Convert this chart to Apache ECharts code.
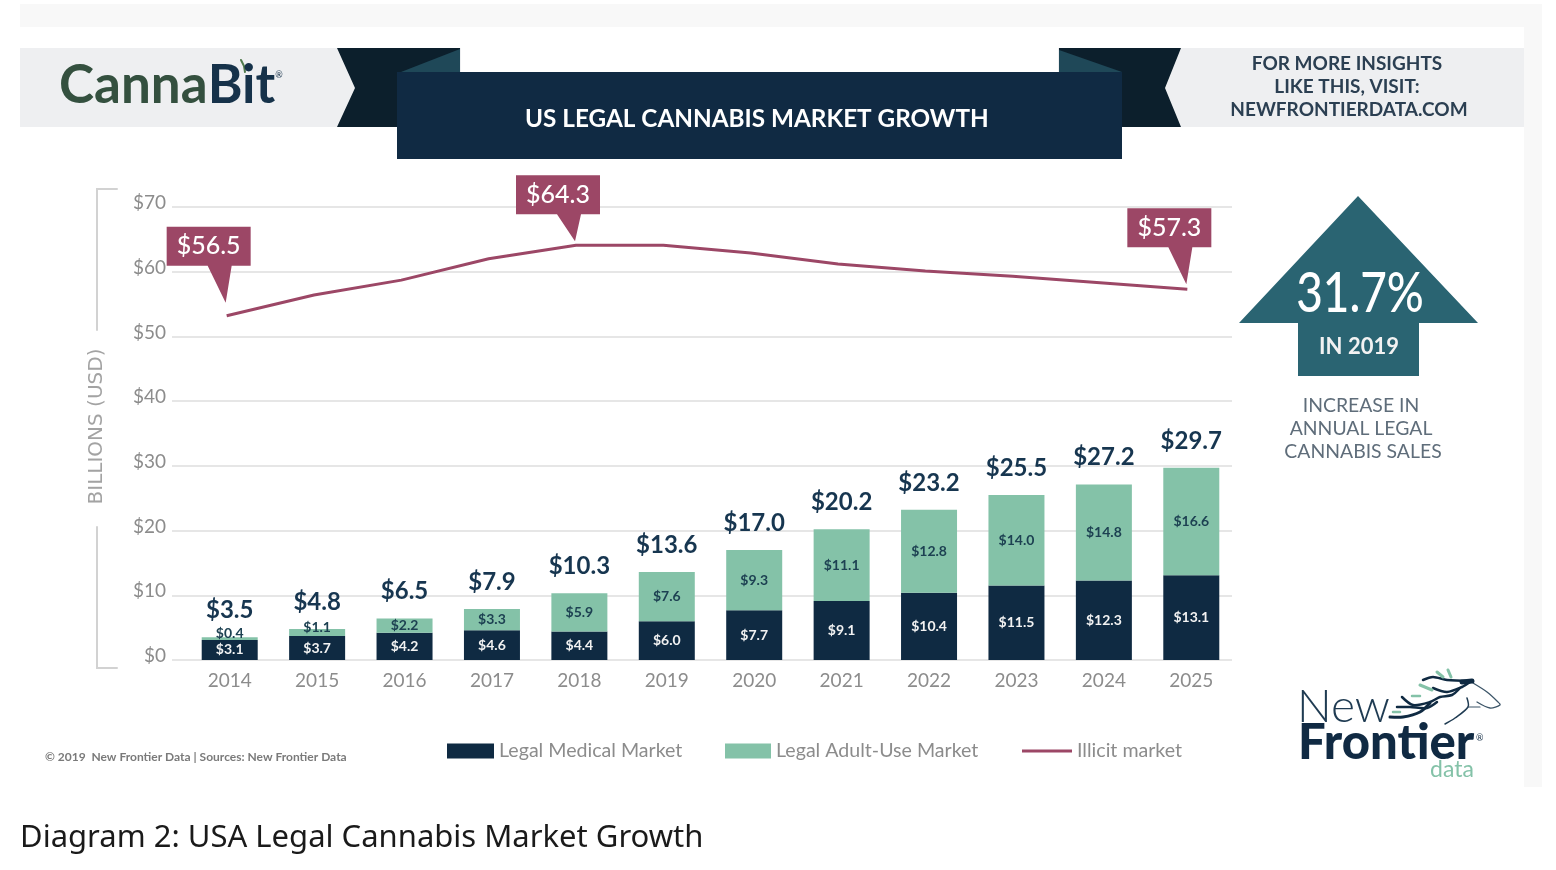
<!DOCTYPE html>
<html>
<head>
<meta charset="utf-8">
<title>US Legal Cannabis Market Growth</title>
<script src="https://cdn.jsdelivr.net/npm/echarts@6/dist/echarts.min.js"></script>
<style>
html, body { margin: 0; padding: 0; background: #fff; }
#chart { width: 1556px; height: 870px; }
</style>
</head>
<body>
<div id="chart"></div>
<script>
var years = ['2014', '2015', '2016', '2017', '2018', '2019', '2020', '2021', '2022', '2023', '2024', '2025'];
var medical = [3.1, 3.7, 4.2, 4.6, 4.4, 6.0, 7.7, 9.1, 10.4, 11.5, 12.3, 13.1];
var adultUse = [0.4, 1.1, 2.2, 3.3, 5.9, 7.6, 9.3, 11.1, 12.8, 14.0, 14.8, 16.6];
var totals = [3.5, 4.8, 6.5, 7.9, 10.3, 13.6, 17.0, 20.2, 23.2, 25.5, 27.2, 29.7];
var illicit = [53.2, 56.4, 58.7, 62.0, 64.1, 64.1, 62.9, 61.2, 60.1, 59.3, 58.3, 57.3];
var calloutYears = ['2014', '2018', '2025'];
var calloutValues = [56.5, 64.3, 57.3];

// pin height and how far its centre sits above the line, per callout
var calloutPins = [[76, 51], [66, 37], [76, 43]];

var NAVY = '#0f2a42', GREEN = '#84c2a8', WINE = '#9c4766', TEAL = '#2a6472', GREY = '#8c8c8c';
var FONT = 'Lato';

function money(v) { return '$' + v.toFixed(1); }

function pinPath(h) {
    return 'path://M0 0H84V39H65L59 ' + h + 'L41 39H0Z';
}
function text(x, y, str, size, color, weight, align) {
    return {
        type: 'text', x: x, y: y, z: 20,
        style: {
            text: str, fontFamily: FONT, fontSize: size, fill: color,
            fontWeight: weight || 400, align: align || 'center', verticalAlign: 'middle'
        }
    };
}
function poly(points, color) {
    return { type: 'polygon', z: 2, shape: { points: points }, style: { fill: color } };
}
function rect(x, y, w, h, color) {
    return { type: 'rect', z: 1, shape: { x: x, y: y, width: w, height: h }, style: { fill: color } };
}
function stroke(points, color, width, smooth) {
    return {
        type: 'polyline', z: 5, shape: { points: points, smooth: smooth || 0 },
        style: { fill: 'none', stroke: color, lineWidth: width, lineCap: 'round' }
    };
}
function legendItem(name, left, width, height) {
    return {
        left: left, top: 741, padding: 0, itemWidth: width, itemHeight: height, icon: 'rect',
        selectedMode: false, data: [name],
        textStyle: { color: GREY, fontFamily: FONT, fontSize: 19.6 }
    };
}

var chart = echarts.init(document.getElementById('chart'));
chart.setOption({
    backgroundColor: '#fff',
    animation: false,
    title: {
        text: 'US LEGAL CANNABIS MARKET GROWTH',
        left: 520, top: 102, z: 20,
        textStyle: { color: '#fff', fontFamily: FONT, fontSize: 24.3, fontWeight: 700 }
    },
    legend: [
        legendItem('Legal Medical Market', 447, 47, 15),
        legendItem('Legal Adult-Use Market', 725, 46, 15),
        legendItem('Illicit market', 1022, 50, 3)
    ],
    // first grid only carries the gridlines, which run a bit wider than the bars
    grid: [
        { left: 172, width: 1060, top: 207, height: 453 },
        { left: 186, width: 1049, top: 207, height: 453 },
        { left: 183, width: 1048, top: 207, height: 453 }
    ],
    xAxis: [
        { gridIndex: 0, type: 'value', min: 0, max: 1, show: false },
        {
            gridIndex: 1, type: 'category', data: years,
            axisLine: { show: false }, axisTick: { show: false },
            axisLabel: { color: GREY, fontFamily: FONT, fontSize: 19, margin: 11 }
        },
        { gridIndex: 2, type: 'category', data: years, show: false }
    ],
    yAxis: [
        {
            gridIndex: 0, type: 'value', min: 0, max: 70, interval: 10,
            name: 'BILLIONS (USD)', nameLocation: 'middle', nameGap: 65, nameRotate: 90,
            nameTextStyle: { color: '#a3a3a3', fontFamily: 'DejaVu Sans', fontSize: 20, padding: [0, 0, 0, 14] },
            axisLine: { show: false }, axisTick: { show: false },
            axisLabel: {
                formatter: '${value}', color: GREY, fontFamily: FONT, fontSize: 19, margin: 6,
                verticalAlign: 'bottom', lineHeight: 8
            },
            splitLine: { lineStyle: { color: '#e6e6e6', width: 2 } }
        },
        { gridIndex: 1, type: 'value', min: 0, max: 70, show: false },
        { gridIndex: 2, type: 'value', min: 0, max: 70, show: false }
    ],
    series: [
        {
            name: 'Legal Medical Market', type: 'bar', stack: 'sales', xAxisIndex: 1, yAxisIndex: 1,
            barWidth: 56, data: medical,
            itemStyle: { color: NAVY },
            label: {
                show: true, position: 'inside', color: '#f2f2f2', fontFamily: FONT, fontSize: 14, fontWeight: 700,
                formatter: function (p) { return money(p.value); }
            }
        },
        {
            name: 'Legal Adult-Use Market', type: 'bar', stack: 'sales', xAxisIndex: 1, yAxisIndex: 1,
            barWidth: 56,
            data: adultUse.map(function (v) {
                // the two thinnest segments push their label upward
                return v < 1.5 ? { value: v, label: { offset: [0, -5] } } : v;
            }),
            itemStyle: { color: GREEN },
            label: {
                show: true, position: 'inside', color: '#1d4152', fontFamily: FONT, fontSize: 14, fontWeight: 700,
                formatter: function (p) { return money(p.value); }
            }
        },
        {
            name: 'Total', type: 'scatter', xAxisIndex: 1, yAxisIndex: 1, symbolSize: 0, data: totals,
            itemStyle: { opacity: 1 },
            label: {
                show: true, position: 'top', distance: 15, color: '#173650', fontFamily: FONT, fontSize: 24, fontWeight: 700,
                formatter: function (p) { return money(p.value); }
            }
        },
        {
            name: 'Illicit market', type: 'line', xAxisIndex: 2, yAxisIndex: 2, data: illicit,
            symbol: 'none', lineStyle: { color: WINE, width: 3 }, itemStyle: { color: WINE },
            markPoint: {
                itemStyle: { color: WINE },
                label: {
                    position: 'inside', color: '#fff', fontFamily: FONT, fontSize: 25, fontWeight: 500,
                    formatter: function (p) { return money(p.value); }
                },
                data: calloutYears.map(function (y, i) {
                    var h = calloutPins[i][0];
                    return {
                        coord: [y, illicit[years.indexOf(y)]],
                        value: calloutValues[i],
                        symbol: pinPath(h),
                        symbolSize: [84, h],
                        symbolOffset: [-18, -calloutPins[i][1]],
                        label: { offset: [0, 19.5 - h / 2] }
                    };
                })
            }
        }
    ],
    graphic: [
        // page strips and header band
        rect(20, 4, 1522, 23, '#f8f8f8'),
        rect(1524, 4, 18, 783, '#f8f8f8'),
        rect(20, 48, 1504, 79, '#eeeff1'),
        rect(461, 48, 597, 25, '#ffffff'),
        poly([[337, 48], [460, 48], [460, 127], [337, 127], [355, 88]], '#0c1f2c'),
        poly([[1181, 48], [1059, 48], [1059, 127], [1181, 127], [1165, 88]], '#0c1f2c'),
        poly([[401, 72], [460, 49], [460, 72]], '#1f4858'),
        poly([[1059, 50], [1059, 72], [1122, 72]], '#1f4858'),
        { type: 'rect', z: 3, shape: { x: 397, y: 72, width: 725, height: 87 }, style: { fill: '#102a43' } },
        {
            type: 'text', x: 59, y: 86, z: 20,
            style: {
                text: '{a|Canna}{b|Bit}{c|®}',
                verticalAlign: 'middle',
                rich: {
                    a: { fontFamily: FONT, fontSize: 53, fontWeight: 700, fill: '#34503f' },
                    b: { fontFamily: FONT, fontSize: 53, fontWeight: 700, fill: '#16324a' },
                    c: { fontFamily: FONT, fontSize: 9, fill: '#16324a', padding: [0, 0, 22, 0] }
                }
            }
        },
        stroke([[241, 60], [244, 66], [245, 72]], '#4f7a4c', 2),
        text(1347, 64, 'FOR MORE INSIGHTS', 19, '#2b3f52', 700),
        text(1347, 87, 'LIKE THIS, VISIT:', 19, '#2b3f52', 700),
        text(1349, 110, 'NEWFRONTIERDATA.COM', 19, '#2b3f52', 700),

        // axis bracket
        stroke([[117, 189], [97, 189], [97, 330]], '#d2d2d2', 2),
        stroke([[97, 527], [97, 668], [117, 668]], '#d2d2d2', 2),

        // growth arrow
        poly([[1358, 196], [1478, 323], [1419, 323], [1419, 376], [1298, 376], [1298, 323], [1239, 323]], TEAL),
        Object.assign(text(1360, 294, '31.7%', 56, '#fff', 500), { scaleX: 0.82 }),
        text(1359, 347, 'IN 2019', 22, '#f2f2f2', 700),
        text(1361, 406, 'INCREASE IN', 19.4, '#5f6d7a'),
        text(1361, 429, 'ANNUAL LEGAL', 19.4, '#5f6d7a'),
        text(1363, 452, 'CANNABIS SALES', 19.4, '#5f6d7a'),

        text(45, 757, '© 2019  New Frontier Data | Sources: New Frontier Data', 12, '#7a7a7a', 700, 'left'),

        // New Frontier logo
        text(1297, 707, 'New', 46, '#1f3b52', 300, 'left'),
        text(1298, 743, 'Frontier', 49, '#102a43', 900, 'left'),
        text(1476, 738, '®', 9, '#102a43', 400, 'left'),
        text(1430, 770, 'data', 23, GREEN, 400, 'left'),
        stroke([[1473, 683], [1487, 692], [1498, 702], [1500, 705], [1490, 708], [1477, 702]], '#3c5568', 1.3, 0.3),
        stroke([[1467, 698], [1468, 707], [1455, 718], [1445, 724]], '#1f3b52', 1.5, 0.3),
        stroke([[1468, 707], [1480, 707]], '#3c5568', 1.2),
        stroke([[1423, 680], [1433, 677], [1447, 680], [1470, 681]], NAVY, 2.5, 0.3),
        stroke([[1462, 682], [1472, 681]], NAVY, 5),
        stroke([[1433, 688], [1447, 692], [1462, 687], [1470, 682]], NAVY, 2.5, 0.3),
        stroke([[1402, 697], [1413, 705], [1430, 702], [1440, 697], [1452, 695], [1460, 688]], NAVY, 2.5, 0.3),
        stroke([[1397, 707], [1410, 707], [1427, 708], [1437, 702]], NAVY, 2.5, 0.3),
        stroke([[1390, 717], [1403, 717], [1420, 712], [1430, 703]], NAVY, 3, 0.3),
        stroke([[1437, 672], [1443, 677]], GREEN, 3),
        stroke([[1448, 670], [1451, 677]], GREEN, 3),
        stroke([[1420, 685], [1432, 690]], GREEN, 3),
        stroke([[1412, 696], [1420, 696]], GREEN, 2.5),
        stroke([[1393, 712], [1400, 712]], GREEN, 2.5),

        {
            type: 'text', x: 20, y: 838, z: 20,
            style: { text: 'Diagram 2: USA Legal Cannabis Market Growth', fontFamily: 'Noto Sans', fontSize: 31, fill: '#1a1a1a', verticalAlign: 'middle' }
        }
    ]
});
window.onresize = chart.resize;
</script>
</body>
</html>
